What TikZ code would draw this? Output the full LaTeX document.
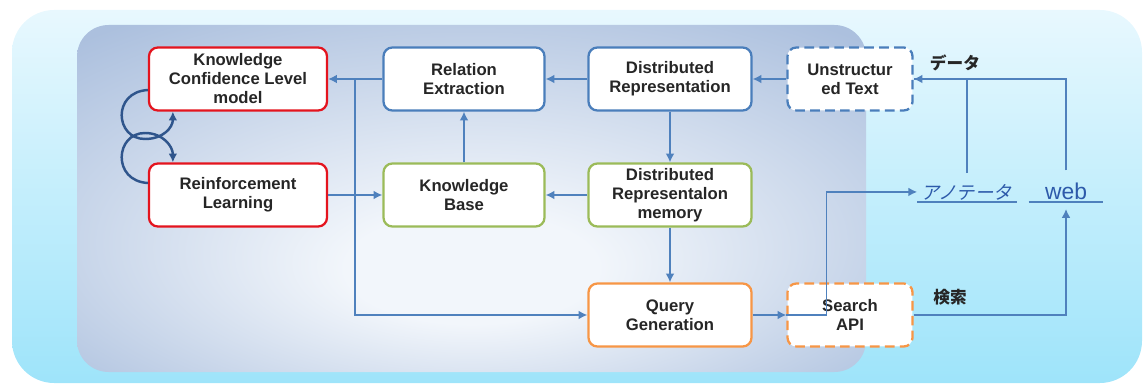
\documentclass[tikz,border=0pt]{standalone}
\usepackage{fontspec}
\setmainfont{Liberation Sans}
\newfontfamily\jpfont{Noto Sans CJK JP}
\newfontfamily\jpslant[FakeSlant=0.2]{Noto Sans CJK JP}
\usetikzlibrary{arrows.meta}
\definecolor{linkblue}{RGB}{79,129,189}
\definecolor{loopblue}{RGB}{47,85,140}
\definecolor{boxred}{RGB}{228,20,30}
\definecolor{boxblue}{RGB}{74,126,187}
\definecolor{boxgreen}{RGB}{155,187,89}
\definecolor{boxorange}{RGB}{247,150,70}
\definecolor{annoblue}{RGB}{45,90,170}
\definecolor{outtop}{RGB}{232,248,254}
\definecolor{outbot}{RGB}{158,228,250}
\definecolor{panelc}{RGB}{172,192,222}
\definecolor{glowc}{RGB}{242,246,251}
\pgfdeclareradialshading{panelglow}{\pgfpoint{0bp}{-12bp}}{color(0bp)=(glowc); color(8bp)=(glowc); color(36bp)=(panelc); color(50bp)=(panelc)}

\begin{document}
\begin{tikzpicture}[x=0.02cm,y=-0.02cm,
	box/.style={draw, fill=white, rounded corners=5pt, line width=1.3pt, align=center,
		font=\fontsize{9.5}{10.8}\selectfont\bfseries, text=black!85,
		minimum height=1.26cm, inner sep=1pt},
	arr/.style={draw=linkblue, line width=0.9pt, -{Latex[length=5pt,width=5pt]}},
	conn/.style={draw=linkblue, line width=0.9pt},
	selfloop/.style={draw=loopblue, line width=1.4pt, -{Latex[length=5pt,width=5pt]}},
	jplabel/.style={font=\jpfont\bfseries\fontsize{9.5}{10}\selectfont, text=black!85}]
	\useasboundingbox (0,0) rectangle (1146,385);
	
	\shade[top color=outtop, bottom color=outbot, rounded corners=24pt] (12,10) rectangle (1142,383);
	\shade[shading=panelglow, rounded corners=18pt] (77,25) rectangle (866,372);
	
	\node[box, draw=boxred, minimum width=3.56cm] (kcl) at (238,79) {Knowledge\\Confidence Level\\model};
	\node[box, draw=boxred, minimum width=3.56cm] (rl) at (238,195) {Reinforcement\\Learning};
	\node[box, draw=boxblue, minimum width=3.22cm] (re) at (464,79) {Relation\\Extraction};
	\node[box, draw=boxblue, minimum width=3.26cm] (dr) at (670,79) {Distributed\\Representation};
	\node[box, draw=boxgreen, minimum width=3.22cm] (kb) at (464,195) {Knowledge\\Base};
	\node[box, draw=boxgreen, minimum width=3.26cm] (drm) at (670,195) {Distributed\\Representalon\\memory};
	\node[box, draw=boxblue, dashed, dash pattern=on 5.5pt off 3pt, minimum width=2.5cm] (ut) at (850,79) {Unstructur\\ed Text};
	\node[box, draw=boxorange, minimum width=3.26cm] (qg) at (670,315) {Query\\Generation};
	\node[box, draw=boxorange, dashed, dash pattern=on 5.5pt off 3pt, minimum width=2.5cm] (sapi) at (850,315) {Search\\API};
	
	\node[anchor=south, inner sep=1pt, minimum width=1.98cm, text=annoblue,
		font=\jpslant\fontsize{10.5}{11}\selectfont] (anno) at (967,202) {アノテータ};
	\node[anchor=south, inner sep=1pt, minimum width=1.48cm, text=annoblue,
		font=\fontsize{13}{13}\selectfont] (web) at (1066,202) {web};
	\draw[conn, line width=1.1pt] (anno.south west) -- (anno.south east);
	\draw[conn, line width=1.1pt] (web.south west) -- (web.south east);
	
	\node[jplabel] (datalbl) at (955,63) {データ};
	\node[jplabel] (searchlbl) at (950,297) {検索};
	
	\coordinate (split) at (355,79);
	
	\draw[arr] (ut) -- (dr);
	\draw[arr] (dr) -- (re);
	\draw[arr] (re) -- (kcl);
	\draw[arr] (split) |- (qg);
	\draw[arr] (rl) -- (kb);
	\draw[arr] (kb) -- (re);
	\draw[arr] (dr) -- (drm);
	\draw[arr] (drm) -- (kb);
	\draw[arr] (drm) -- (qg);
	\draw[arr] (qg) -- (sapi);
	\draw[arr] (sapi.west) -- ++(40,0) |- (anno);
	\draw[arr, shorten >=4pt] (sapi.east) -| (web.south);
	\draw[arr, shorten <=6pt] (web.north) |- (ut.east);
	\draw[conn, shorten <=5pt] (anno.north) |- (ut.east);
	
	\draw[selfloop] ([yshift=-0.22cm]kcl.west) .. controls +(-36,2) and +(-30,0) .. (145,139)
		.. controls +(18,0) and +(0,16) .. ([xshift=0.5cm]kcl.south west);
	\draw[selfloop] ([yshift=0.24cm]rl.west) .. controls +(-36,-2) and +(-30,0) .. (145,133)
		.. controls +(18,0) and +(0,-16) .. ([xshift=0.5cm]rl.north west);
\end{tikzpicture}
\end{document}
